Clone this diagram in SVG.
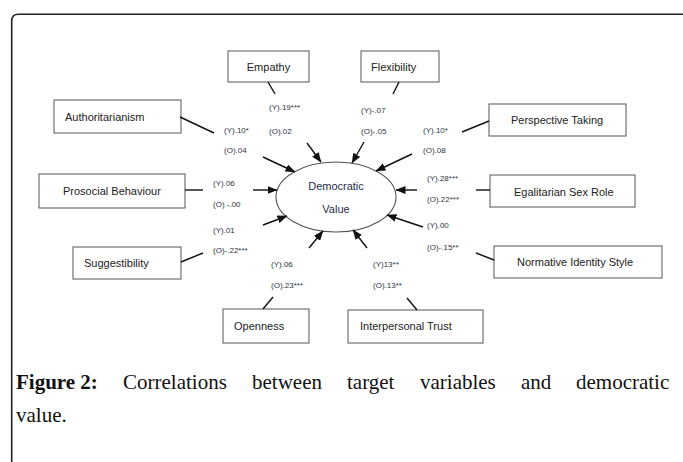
<svg xmlns="http://www.w3.org/2000/svg" width="683" height="462" viewBox="0 0 683 462">
<style>
.box{fill:#fff;stroke:#555;stroke-width:1}
.bt{font-family:"Liberation Sans",Arial,sans-serif;font-size:11px;fill:#222}
.lb{font-family:"Liberation Sans",Arial,sans-serif;font-size:8px;fill:#2c3444}
.ln{stroke:#111;stroke-width:1.4;fill:none}
.ar{stroke:#111;stroke-width:1.4;fill:none;marker-end:url(#ah)}
.cap{font-family:"Liberation Serif","Times New Roman",serif;font-size:21px;fill:#111}
</style>
<defs>
<marker id="ah" markerUnits="userSpaceOnUse" markerWidth="10" markerHeight="8" refX="9.5" refY="4" orient="auto">
<path d="M0,0 L10,4 L0,8 z" fill="#111"/>
</marker>
</defs>
<rect width="683" height="462" fill="#fff"/>
<path d="M11.7,470 L11.7,21 Q11.7,14.3 18.4,14.3 L684,14.3" fill="none" stroke="#222" stroke-width="1.6"/>

<g id="center">
<ellipse cx="336" cy="197" rx="60" ry="35" fill="#fff" stroke="#555" stroke-width="1.1"/>
<text class="bt" x="336" y="190" text-anchor="middle" style="fill:#1f2d4a">Democratic</text>
<text class="bt" x="336" y="213" text-anchor="middle" style="fill:#1f2d4a">Value</text>
</g>

<g id="empathy">
<rect class="box" x="228" y="51" width="81" height="31"/>
<text class="bt" x="268.5" y="71" text-anchor="middle">Empathy</text>
</g>
<g id="flexibility">
<rect class="box" x="361" y="51" width="78" height="31"/>
<text class="bt" x="371" y="71">Flexibility</text>
</g>
<g id="authoritarianism">
<rect class="box" x="54" y="100" width="127" height="33"/>
<text class="bt" x="65" y="121">Authoritarianism</text>
</g>
<g id="perspective">
<rect class="box" x="489" y="104" width="137" height="32"/>
<text class="bt" x="511" y="124">Perspective Taking</text>
</g>
<g id="prosocial">
<rect class="box" x="39" y="174" width="146" height="34"/>
<text class="bt" x="63" y="195">Prosocial Behaviour</text>
</g>
<g id="egalitarian">
<rect class="box" x="490" y="175" width="145" height="32"/>
<text class="bt" x="514" y="196">Egalitarian Sex Role</text>
</g>
<g id="suggestibility">
<rect class="box" x="73" y="247" width="108" height="32"/>
<text class="bt" x="84" y="267">Suggestibility</text>
</g>
<g id="normative">
<rect class="box" x="494" y="246" width="168" height="32"/>
<text class="bt" x="517" y="266">Normative Identity Style</text>
</g>
<g id="openness">
<rect class="box" x="223" y="309" width="86" height="34"/>
<text class="bt" x="234" y="330">Openness</text>
</g>
<g id="trust">
<rect class="box" x="348" y="310" width="135" height="33"/>
<text class="bt" x="360" y="330">Interpersonal Trust</text>
</g>

<g id="connectors">
<line class="ln" x1="268" y1="82" x2="275" y2="94"/>
<line class="ar" x1="307" y1="143" x2="321" y2="162"/>
<line class="ln" x1="399" y1="82" x2="393" y2="94"/>
<line class="ar" x1="364" y1="142" x2="352" y2="163"/>
<line class="ln" x1="180" y1="117" x2="214" y2="133"/>
<line class="ar" x1="263" y1="157" x2="295" y2="172"/>
<line class="ln" x1="489" y1="121" x2="462" y2="132"/>
<line class="ar" x1="412" y1="154" x2="376" y2="171"/>
<line class="ln" x1="185" y1="190" x2="203" y2="190"/>
<line class="ar" x1="253" y1="190" x2="277" y2="190"/>
<line class="ln" x1="490" y1="190" x2="476" y2="190"/>
<line class="ar" x1="417" y1="190" x2="396" y2="190"/>
<line class="ln" x1="181" y1="262" x2="203" y2="253"/>
<line class="ar" x1="263" y1="225" x2="287" y2="216"/>
<line class="ln" x1="494" y1="260" x2="476" y2="253"/>
<line class="ar" x1="423" y1="227" x2="387" y2="215"/>
<line class="ln" x1="263" y1="309" x2="273" y2="297"/>
<line class="ar" x1="309" y1="248" x2="323" y2="231"/>
<line class="ln" x1="417" y1="310" x2="407" y2="298"/>
<line class="ar" x1="367" y1="248" x2="353" y2="230"/>
</g>

<g id="labels">
<text class="lb" x="269" y="110">(Y).19***</text>
<text class="lb" x="269" y="134">(O).02</text>
<text class="lb" x="361" y="113">(Y)-.07</text>
<text class="lb" x="361" y="134">(O)-.05</text>
<text class="lb" x="224" y="133">(Y).10*</text>
<text class="lb" x="224" y="153">(O).04</text>
<text class="lb" x="423" y="133">(Y).10*</text>
<text class="lb" x="423" y="153">(O).08</text>
<text class="lb" x="213" y="186">(Y).06</text>
<text class="lb" x="213" y="207">(O) -.00</text>
<text class="lb" x="427" y="181">(Y).28***</text>
<text class="lb" x="427" y="202">(O).22***</text>
<text class="lb" x="213" y="233">(Y).01</text>
<text class="lb" x="213" y="253">(O)-.22***</text>
<text class="lb" x="427" y="228">(Y).00</text>
<text class="lb" x="427" y="250">(O)-.15**</text>
<text class="lb" x="271" y="267">(Y).06</text>
<text class="lb" x="271" y="288">(O).23***</text>
<text class="lb" x="373" y="267">(Y)13**</text>
<text class="lb" x="373" y="288">(O).13**</text>
</g>

<g id="caption">
<text class="cap" x="16" y="389" font-weight="bold">Figure 2:</text>
<text class="cap" x="123" y="389">Correlations</text>
<text class="cap" x="252" y="389">between</text>
<text class="cap" x="347" y="389">target</text>
<text class="cap" x="420" y="389">variables</text>
<text class="cap" x="521" y="389">and</text>
<text class="cap" x="576" y="389">democratic</text>
<text class="cap" x="16" y="422">value.</text>
</g>
</svg>
